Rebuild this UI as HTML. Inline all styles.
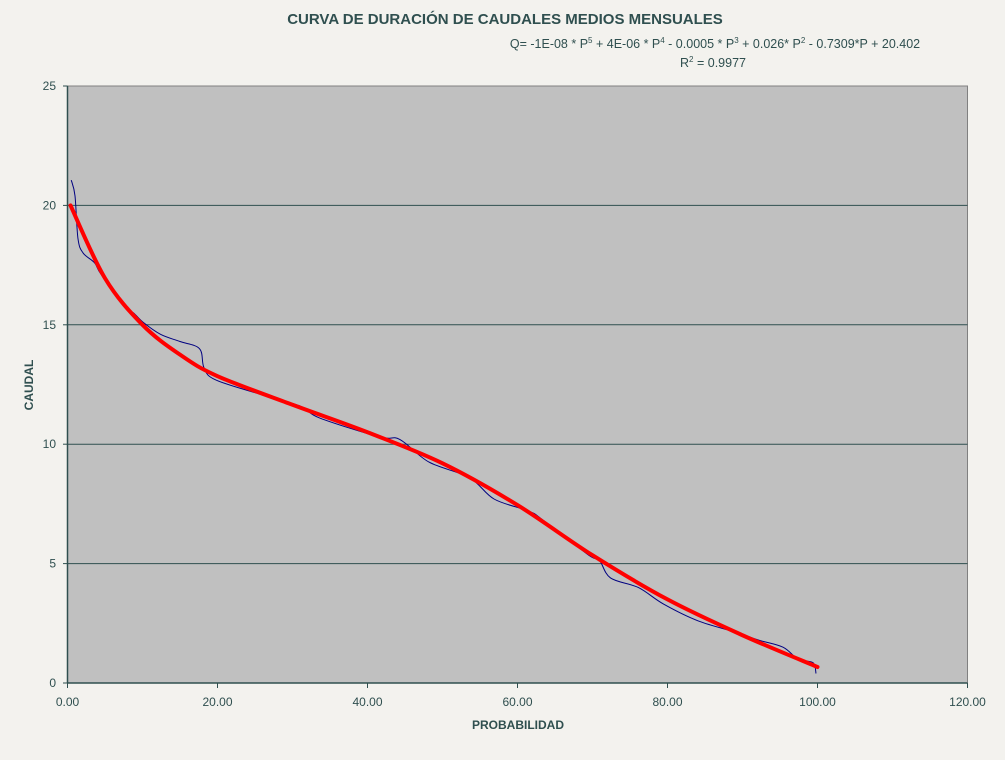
<!DOCTYPE html>
<html><head><meta charset="utf-8">
<style>
body{margin:0;background:#f3f2ee;width:1005px;height:755px;overflow:hidden;font-family:"Liberation Sans",sans-serif;}
svg text{fill:#2f4f4f;font-family:"Liberation Sans",sans-serif;}
</style></head><body>
<svg id="chart" width="1005" height="755">
<text x="505" y="24" font-size="15" font-weight="bold" text-anchor="middle">CURVA DE DURACIÓN DE CAUDALES MEDIOS MENSUALES</text>
<text x="715" y="48" font-size="12.5" text-anchor="middle">Q= -1E-08 * P<tspan dy="-5" font-size="8">5</tspan><tspan dy="5"> + 4E-06 * P</tspan><tspan dy="-5" font-size="8">4</tspan><tspan dy="5"> - 0.0005 * P</tspan><tspan dy="-5" font-size="8">3</tspan><tspan dy="5"> + 0.026* P</tspan><tspan dy="-5" font-size="8">2</tspan><tspan dy="5"> - 0.7309*P  + 20.402</tspan></text>
<text x="713" y="67" font-size="12.5" text-anchor="middle">R<tspan dy="-5" font-size="8">2</tspan><tspan dy="5"> = 0.9977</tspan></text>
<rect x="67.5" y="86" width="900" height="597" fill="#c0c0c0" stroke="#808080"/>
<g id="grid"></g><g id="axes"></g><g id="series"></g>
<text x="518" y="729" font-size="12" font-weight="bold" text-anchor="middle">PROBABILIDAD</text>
<text x="33" y="385" font-size="12" font-weight="bold" text-anchor="middle" transform="rotate(-90 33 385)">CAUDAL</text>
</svg>
<script>
const obsP=[0.5,1.0,1.4,2.1,3.6,4.5,7.8,8.8,10.1,12.4,15,17.6,18.2,19.7,25.6,31,33.6,41.6,44.3,48.2,53.6,56.9,61.5,63.5,69.5,70.9,72.4,76.1,79.5,84.1,89.4,92.1,95.4,97.4,99.4,99.8];
const obsQ=[21.06,20.4,18.6,18.0,17.6,17.1,15.7,15.5,15.1,14.6,14.3,14.0,13.2,12.7,12.1,11.6,11.1,10.3,10.2,9.25,8.6,7.7,7.2,6.8,5.35,5.15,4.4,4.0,3.3,2.6,2.1,1.8,1.5,1.0,0.85,0.4];
const fitP=[0.4,5,10,15,20,30,40,50,60,70,80,90,100];
const fitQ=[20.0,16.95,15.0,13.75,12.85,11.65,10.5,9.2,7.45,5.35,3.5,2.0,0.67];
const xTicks=[0,20,40,60,80,100,120];
const yTicks=[0,5,10,15,20,25];
const X=p=>67.5+p*7.5, Y=q=>683-q*23.88;
const NS="http://www.w3.org/2000/svg";
const grid=document.getElementById('grid'),axes=document.getElementById('axes'),ser=document.getElementById('series');
function mk(tag,attrs,parent){const e=document.createElementNS(NS,tag);for(const k in attrs)e.setAttribute(k,attrs[k]);parent.appendChild(e);return e;}
yTicks.forEach(v=>{
  if(v>0&&v<25){const l=mk('line',{x1:67.5,x2:967.5,y1:Y(v),y2:Y(v),stroke:'#2f4f4f','stroke-width':1},grid);
  
  }
  mk('line',{x1:63,x2:67.5,y1:Y(v),y2:Y(v),stroke:'#2f4f4f'},axes);
  const t=mk('text',{x:56,y:Y(v)+4,'font-size':12,'text-anchor':'end'},axes);t.textContent=v;
  
  
});
xTicks.forEach(v=>{
  mk('line',{x1:X(v),x2:X(v),y1:683,y2:688,stroke:'#2f4f4f'},axes);
  const t=mk('text',{x:X(v),y:706,'font-size':12,'text-anchor':'middle'},axes);t.textContent=v.toFixed(2);
  
  
});
mk('line',{x1:67.5,x2:67.5,y1:86,y2:683,stroke:'#2f4f4f','stroke-width':1.5},axes);
mk('line',{x1:67.5,x2:967.5,y1:683,y2:683,stroke:'#2f4f4f','stroke-width':1.5},axes);
function smooth(ps,qs){const pts=ps.map((p,i)=>[X(p),Y(qs[i])]);let d='M'+pts[0];
 for(let i=0;i<pts.length-1;i++){const p0=pts[Math.max(0,i-1)],p1=pts[i],p2=pts[i+1],p3=pts[Math.min(pts.length-1,i+2)];
 d+=' C'+(p1[0]+(p2[0]-p0[0])/6)+','+(p1[1]+(p2[1]-p0[1])/6)+' '+(p2[0]-(p3[0]-p1[0])/6)+','+(p2[1]-(p3[1]-p1[1])/6)+' '+p2;}return d;}
const obs=mk('path',{d:smooth(obsP,obsQ),fill:'none',stroke:'#000080','stroke-width':1},ser);


const fit=mk('path',{d:smooth(fitP,fitQ),fill:'none',stroke:'#ff0000','stroke-width':4,'stroke-linecap':'round'},ser);


</script>
</body></html>
